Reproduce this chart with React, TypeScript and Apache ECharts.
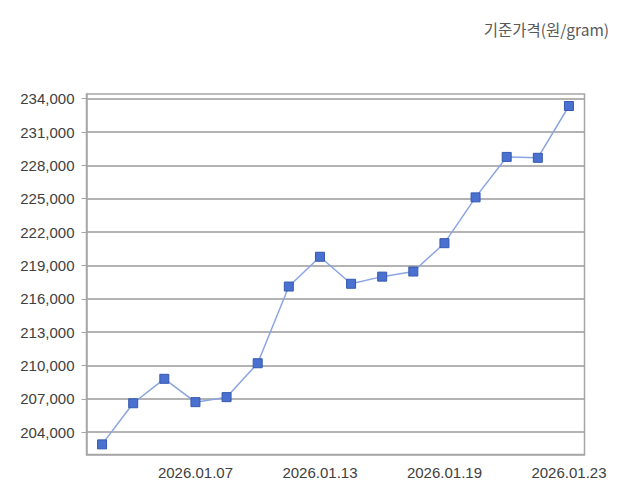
import React, { useEffect, useRef } from "react";
import * as echarts from "echarts";

const dates = [
  "2026.01.02", "2026.01.05", "2026.01.06", "2026.01.07",
  "2026.01.08", "2026.01.09", "2026.01.12", "2026.01.13",
  "2026.01.14", "2026.01.15", "2026.01.16", "2026.01.19",
  "2026.01.20", "2026.01.21", "2026.01.22", "2026.01.23",
];

const prices = [
  202900, 206600, 208800, 206700,
  207150, 210200, 217100, 219780,
  217350, 217990, 218450, 221000,
  225120, 228760, 228680, 233340,
];

const yTicks = [204000, 207000, 210000, 213000, 216000, 219000, 222000, 225000, 228000, 231000, 234000];
const shownDates = ["2026.01.07", "2026.01.13", "2026.01.19", "2026.01.23"];

const App: React.FC = () => {
  const chartRef = useRef<HTMLDivElement | null>(null);

  useEffect(() => {
    if (!chartRef.current) return;
    const chart = echarts.init(chartRef.current, undefined, { renderer: "svg" });

    const showDate = (i: number) => shownDates.includes(dates[i]);

    chart.setOption({
      animation: false,
      backgroundColor: "#ffffff",
      title: {
        text: "기준가격(원/gram)",
        right: 18,
        top: 16,
        textStyle: {
          fontFamily: "'Noto Sans CJK KR', 'Noto Sans', sans-serif",
          fontSize: 15.5,
          fontWeight: "normal",
          color: "#595959",
        },
      },
      grid: {
        left: 86.5,
        right: 47.5,
        top: 94,
        bottom: 49.5,
        show: true,
        borderColor: "#a6a6a6",
        borderWidth: 1.5,
        backgroundColor: "transparent",
      },
      xAxis: {
        type: "category",
        data: dates,
        boundaryGap: true,
        axisLine: { lineStyle: { color: "#a6a6a6", width: 1.5 } },
        axisTick: {
          alignWithLabel: true,
          interval: (i: number) => showDate(i),
          length: 4,
          lineStyle: { color: "#a6a6a6" },
        },
        axisLabel: {
          interval: (i: number) => showDate(i),
          margin: 10,
          fontFamily: "'Liberation Sans', Arial, sans-serif",
          fontSize: 15,
          color: "#404040",
        },
        splitLine: { show: false },
      },
      yAxis: {
        type: "value",
        min: 201990,
        max: 234420,
        axisLine: { show: true, lineStyle: { color: "#a6a6a6", width: 1.5 } },
        axisTick: {
          show: true,
          length: 5,
          customValues: yTicks,
          lineStyle: { color: "#a6a6a6" },
        },
        axisLabel: {
          customValues: yTicks,
          margin: 12,
          fontFamily: "'Liberation Sans', Arial, sans-serif",
          fontSize: 15,
          color: "#404040",
          formatter: (v: number) => v.toLocaleString("en-US"),
        },
        splitLine: { show: true, lineStyle: { color: "#9a9a9a", width: 1.5 } },
      },
      series: [
        {
          type: "line",
          data: prices,
          symbol: "rect",
          symbolSize: 9,
          lineStyle: { color: "#8aa5e2", width: 1.5 },
          itemStyle: { color: "#4a70d0", borderColor: "#3558b0", borderWidth: 1 },
        },
      ],
    });

    return () => chart.dispose();
  }, []);

  return (
    <div
      ref={chartRef}
      style={{ position: "absolute", left: 0, top: 0, width: 632, height: 504 }}
    />
  );
};

export default App;
